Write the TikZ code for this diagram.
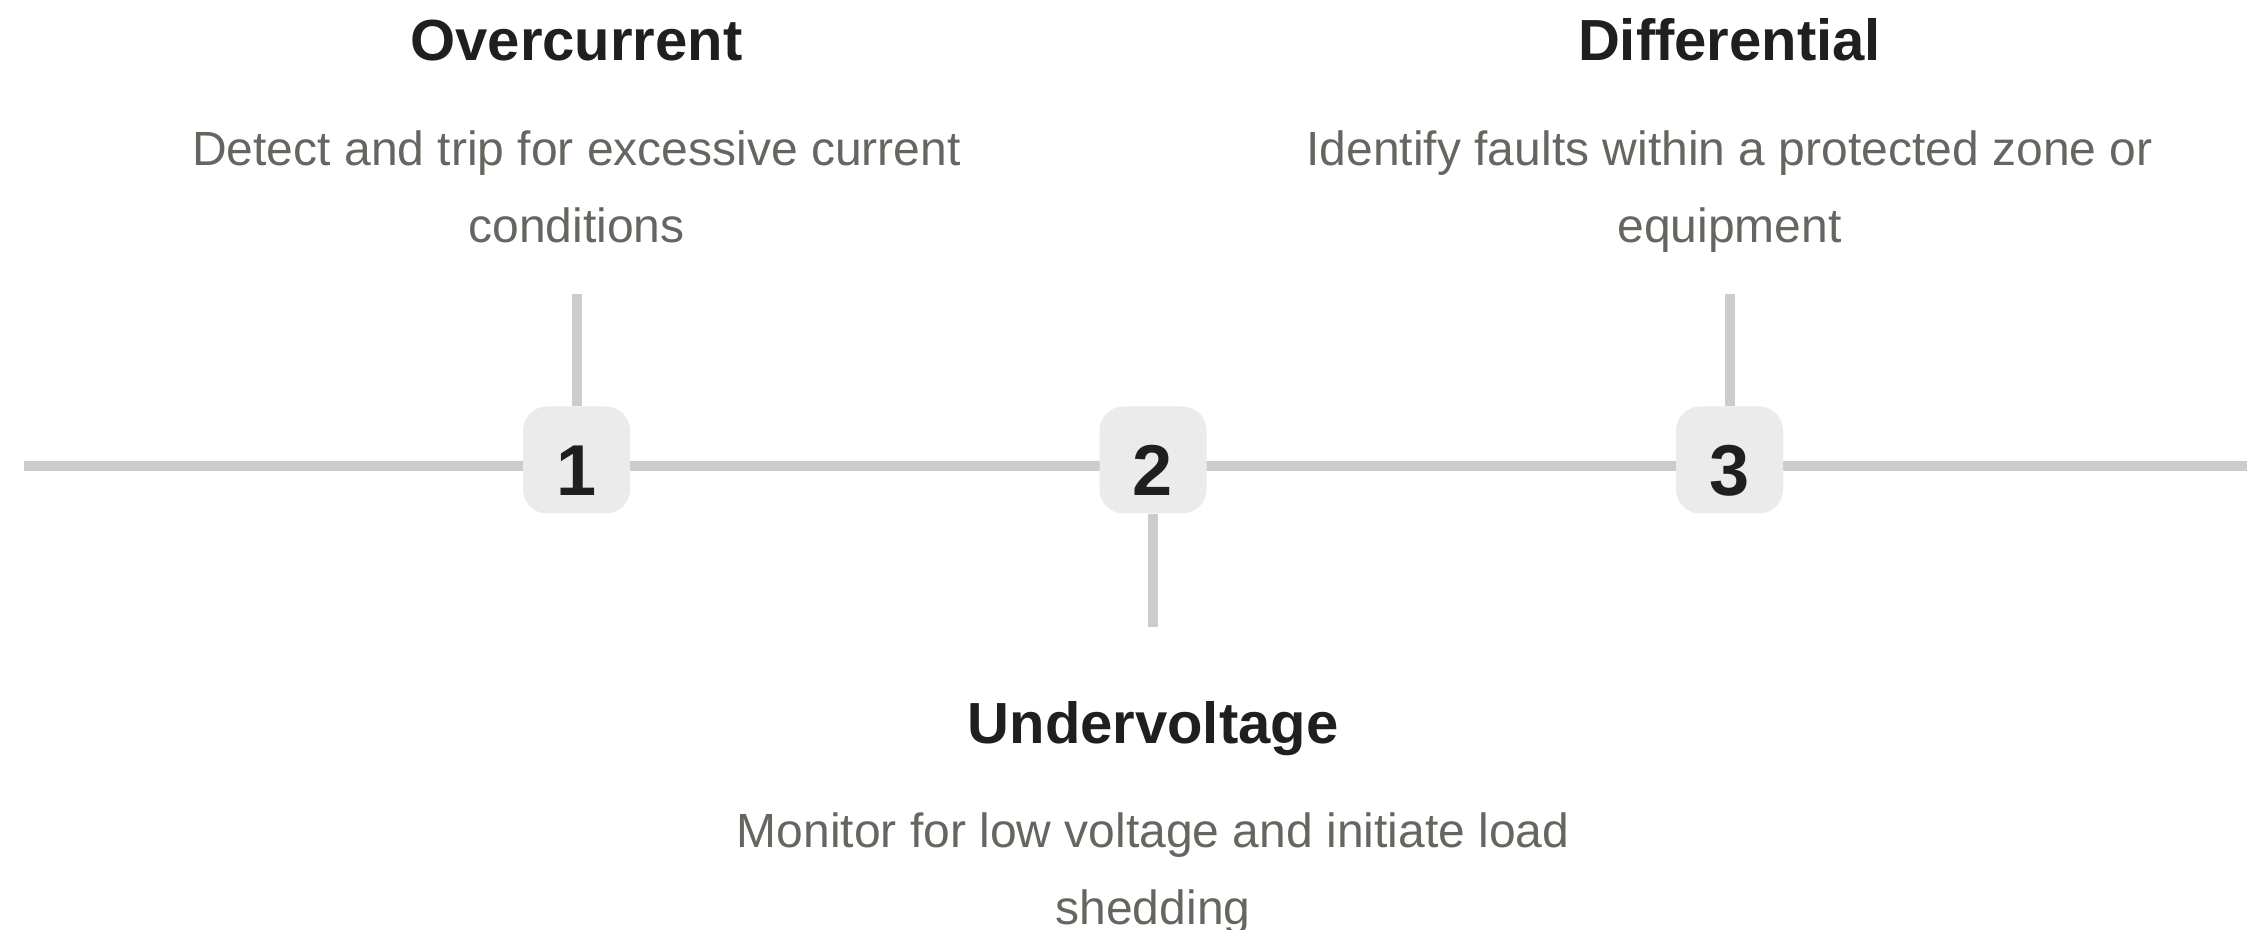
\documentclass[tikz,border=0pt]{standalone}
\usepackage{fontspec}
\setmainfont{Liberation Sans}
\usetikzlibrary{positioning}
\definecolor{railgray}{RGB}{204,204,204}
\definecolor{boxgray}{RGB}{235,235,235}
\definecolor{inkdark}{RGB}{31,31,31}
\definecolor{descgray}{RGB}{102,102,97}

\begin{document}
\begin{tikzpicture}[
    rail/.style={
        draw=railgray,
        line width=0.1cm
    },
    stepbox/.style={
        rectangle,
        rounded corners=0.24cm,
        fill=boxgray,
        minimum width=1.07cm,
        minimum height=1.07cm,
        inner sep=0pt,
        text height=0.71cm,
        text depth=0pt,
        text=inkdark,
        font=\fontsize{20.5}{24}\selectfont\bfseries
    },
    heading/.style={
        anchor=base,
        inner sep=0pt,
        text=inkdark,
        font=\fontsize{16.5}{20}\selectfont\bfseries
    },
    desc/.style={
        anchor=north,
        inner sep=0pt,
        align=center,
        text=descgray,
        font=\fontsize{13.66}{21.85}\selectfont
    }
]

\useasboundingbox (0,0) rectangle (22.47,9.30);

% Timeline
\coordinate (railL) at (0.24,4.64);
\coordinate (railR) at (22.47,4.64);
\draw[rail] (railL) -- (railR);

% Step boxes
\node[stepbox] (step1) at (5.765,4.70) {1};
\node[stepbox] (step2) at (11.53,4.70) {2};
\node[stepbox] (step3) at (17.295,4.70) {3};

% Stems
\coordinate (stem1) at (5.765,6.36);
\coordinate (stem2) at (11.53,3.03);
\coordinate (stem3) at (17.295,6.36);
\draw[rail] (step1.north) -- (stem1);
\draw[rail] (step2.south) -- (stem2);
\draw[rail] (step3.north) -- (stem3);

% Headings
\node[heading] (head1) at (5.765,8.69) {Overcurrent};
\node[heading] (head2) at (11.53,1.86) {Undervoltage};
\node[heading] (head3) at (17.295,8.69) {Differential};

% Descriptions
\node[desc] (desc1) at (5.765,8.00) {Detect and trip for excessive current\\conditions};
\node[desc] (desc2) at (11.53,1.18) {Monitor for low voltage and initiate load\\shedding};
\node[desc] (desc3) at (17.295,8.00) {Identify faults within a protected zone or\\equipment};

\end{tikzpicture}
\end{document}
